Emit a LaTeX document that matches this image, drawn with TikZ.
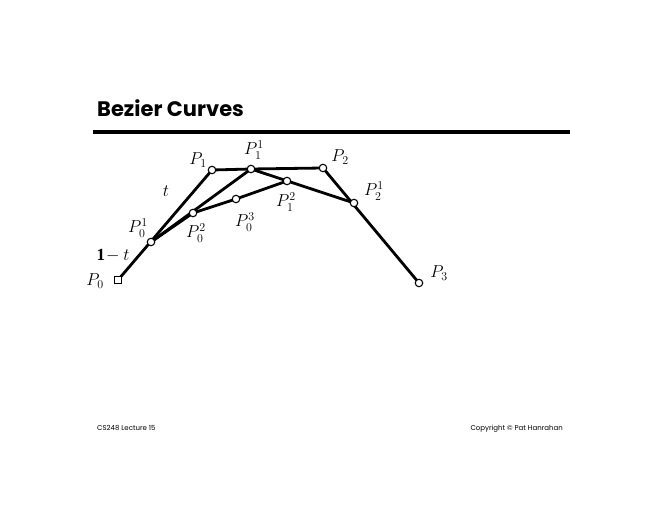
\documentclass[tikz,border=0pt]{standalone}
\usepackage{fontspec}
\setsansfont{Poppins}
\setmainfont{Liberation Serif}
\begin{document}
\begin{tikzpicture}[x=1pt,y=-1pt,
  pt/.style={circle,draw,fill=white,line width=1.1pt,inner sep=0pt,minimum size=7.5pt},
  sq/.style={rectangle,draw,fill=white,line width=1.1pt,inner sep=0pt,minimum size=6.5pt},
  seg/.style={line width=2.8pt},
  lab/.style={font=\fontsize{17}{17}\selectfont,inner sep=0pt},
  foot/.style={font=\sffamily\fontsize{7}{8}\selectfont,inner sep=0pt}]
\useasboundingbox (0,0) rectangle (660,510);
% title
\node[anchor=base west,inner sep=0pt,font=\sffamily\bfseries\fontsize{21}{22}\selectfont] (title) at (97,117) {Bezier Curves};
\coordinate (rl) at (93,132);
\coordinate (rr) at (570,132);
\draw[line width=4pt] (rl) -- (rr);
% points
\coordinate (P0) at (118,280);
\coordinate (P01) at (151,242);
\coordinate (P1) at (212,170);
\coordinate (P11) at (251,169);
\coordinate (P2) at (323,168);
\coordinate (P12) at (287,181);
\coordinate (P21) at (354,203);
\coordinate (P02) at (193,213);
\coordinate (P03) at (236,199);
\coordinate (P3) at (419,283);
% segments
\draw[seg] (P0) -- (P1) -- (P11) -- (P2) -- (P3);
\draw[seg] (P01) -- (P11) -- (P21);
\draw[seg] (P01) -- (P02) -- (P03) -- (P12);
% markers
\node[sq] (n0) at (P0) {};
\foreach \p in {P01,P1,P11,P2,P12,P21,P02,P03,P3} \node[pt] (n\p) at (\p) {};
% labels
\node[lab] (l1) at (198,160) {$P_1$};
\node[lab] (l11) at (254,150) {$P_1^1$};
\node[lab] (l2) at (340,157) {$P_2$};
\node[lab] (l21) at (374,191) {$P_2^1$};
\node[lab] (l12) at (286,202) {$P_1^2$};
\node[lab] (l03) at (245,222) {$P_0^3$};
\node[lab] (l02) at (196,233) {$P_0^2$};
\node[lab] (l01) at (138,228) {$P_0^1$};
\node[lab] (lt) at (166,191) {$t$};
\node[lab] (l1t) at (113,256) {$\mathbf{1}\!-t$};
\node[lab] (l0) at (95,281) {$P_0$};
\node[lab] (l3) at (439,273) {$P_3$};
% footer
\node[foot,anchor=base west] (f1) at (97,430) {CS248 Lecture 15};
\node[foot,anchor=base east] (f2) at (563,430) {Copyright \copyright{} Pat Hanrahan};
\end{tikzpicture}
\end{document}
